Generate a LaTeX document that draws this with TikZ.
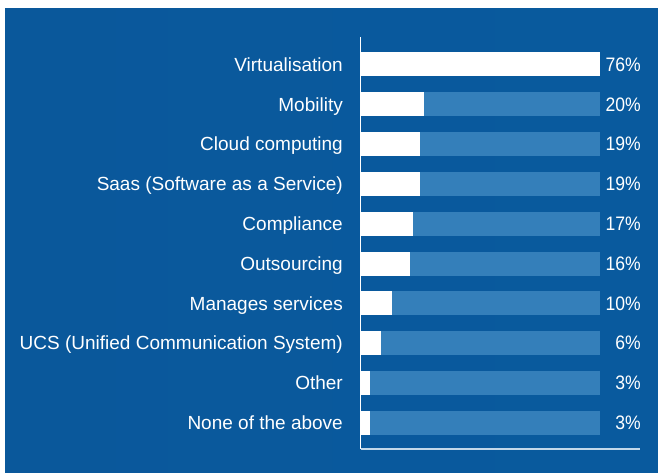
\documentclass[tikz,border=0pt]{standalone}
\usepackage{fontspec}
\setmainfont{Liberation Sans}
\newfontfamily\valuefont[FakeStretch=0.9]{Liberation Sans}
\usepackage{tikz}
\usetikzlibrary{positioning}
\definecolor{bgleft}{RGB}{10,88,155}
\definecolor{bgmid}{RGB}{24,121,192}
\definecolor{bgright}{RGB}{9,90,158}
\definecolor{trackblue}{RGB}{52,127,186}
\tikzset{x=1pt, y=-1pt, font=\fontsize{19}{19}\selectfont}
\tikzstyle{track} = [fill=trackblue, minimum height=24pt, minimum width=239pt, inner sep=0pt, outer sep=0pt, anchor=west]
\tikzstyle{bar} = [fill=white, minimum height=24pt, inner sep=0pt, outer sep=0pt, anchor=west]
\tikzstyle{label} = [text=white, anchor=base east, inner sep=0pt]
\tikzstyle{value} = [text=white, anchor=base east, inner sep=0pt, font=\valuefont\fontsize{19.5}{19.5}\selectfont]
\begin{document}
\begin{tikzpicture}
		\useasboundingbox (0,0) rectangle (658,473);
		\fill [white] (0,0) rectangle (658,473);
		\shade [left color=bgleft, middle color=bgmid, right color=bgright] (5,9) rectangle (658,473);

		% tracks
		\node [track] (t1) at (361,64.5) {};
		\node [track] (t2) at (361,104.3) {};
		\node [track] (t3) at (361,144.1) {};
		\node [track] (t4) at (361,183.9) {};
		\node [track] (t5) at (361,223.7) {};
		\node [track] (t6) at (361,263.5) {};
		\node [track] (t7) at (361,303.3) {};
		\node [track] (t8) at (361,343.1) {};
		\node [track] (t9) at (361,382.9) {};
		\node [track] (t10) at (361,422.7) {};

		% bars (76% = full track)
		\node [bar, minimum width=239pt] (b1) at (t1.west) {};
		\node [bar, minimum width=62.9pt] (b2) at (t2.west) {};
		\node [bar, minimum width=58.5pt] (b3) at (t3.west) {};
		\node [bar, minimum width=58.5pt] (b4) at (t4.west) {};
		\node [bar, minimum width=52pt] (b5) at (t5.west) {};
		\node [bar, minimum width=49pt] (b6) at (t6.west) {};
		\node [bar, minimum width=31.4pt] (b7) at (t7.west) {};
		\node [bar, minimum width=20pt] (b8) at (t8.west) {};
		\node [bar, minimum width=9.4pt] (b9) at (t9.west) {};
		\node [bar, minimum width=9.4pt] (b10) at (t10.west) {};

		% labels
		\node [label] (l1) at (343,71.3) {Virtualisation};
		\node [label] (l2) at (343,111.1) {Mobility};
		\node [label] (l3) at (343,150.9) {Cloud computing};
		\node [label] (l4) at (343,190.7) {Saas (Software as a Service)};
		\node [label] (l5) at (343,230.5) {Compliance};
		\node [label] (l6) at (343,270.3) {Outsourcing};
		\node [label] (l7) at (343,310.1) {Manages services};
		\node [label] (l8) at (343,349.9) {UCS (Unified Communication System)};
		\node [label] (l9) at (343,389.7) {Other};
		\node [label] (l10) at (343,429.5) {None of the above};

		% values
		\node [value] (v1) at (641,71.3) {76\%};
		\node [value] (v2) at (641,111.1) {20\%};
		\node [value] (v3) at (641,150.9) {19\%};
		\node [value] (v4) at (641,190.7) {19\%};
		\node [value] (v5) at (641,230.5) {17\%};
		\node [value] (v6) at (641,270.3) {16\%};
		\node [value] (v7) at (641,310.1) {10\%};
		\node [value] (v8) at (641,349.9) {6\%};
		\node [value] (v9) at (641,389.7) {3\%};
		\node [value] (v10) at (641,429.5) {3\%};

		% axes
		\coordinate (top) at (360.5,37);
		\coordinate (origin) at (360.5,449);
		\coordinate (end) at (640,449);
		\draw [white, line width=1.3pt] (top) -- (origin);
		\draw [white!70!trackblue, line width=1.3pt] (origin) -- (end);
	\end{tikzpicture}
\end{document}
